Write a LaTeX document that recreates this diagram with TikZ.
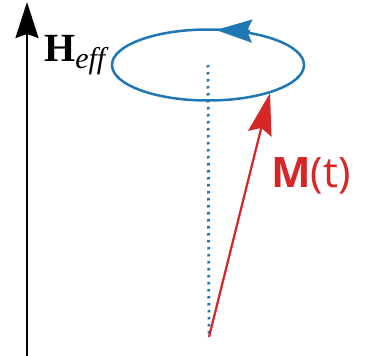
\documentclass[tikz,border=0pt]{standalone}
\usepackage{fontspec}
\setmainfont{Liberation Serif}
\newfontfamily\labsans{Open Sans}
\usetikzlibrary{arrows.meta}
\definecolor{mblue}{HTML}{1F77B4}
\definecolor{mred}{HTML}{D62728}
\tikzset{
  axisline/.style={line width=2pt, black, -{Stealth[length=36pt,width=23pt,inset=4pt]}},
  orbit/.style={line width=2.5pt, mblue},
  spinvec/.style={line width=2.2pt, mred, -{Stealth[length=42pt,width=24pt,inset=6pt]}},
  dotline/.style={line width=2.8pt, mblue, dash pattern=on 2.5pt off 4.5pt}
}
\begin{document}
\begin{tikzpicture}[x=1pt,y=-1pt]
\useasboundingbox (0,0) rectangle (376,356);
\coordinate (axbot) at (27,356);
\coordinate (axtop) at (27,2);
\draw[axisline] (axbot) -- (axtop);
\node[anchor=base west, inner sep=0pt] (heff) at (44,62)
  {\fontsize{40}{40}\selectfont\textbf{H}\raisebox{-6pt}{\fontsize{30}{30}\selectfont\itshape eff}};
\coordinate (ctr) at (208,65);
\coordinate (base) at (209,337);
\draw[dotline] (ctr) -- (base);
\draw[orbit] (ctr) ellipse [x radius=96, y radius=35.5];
\coordinate (arrA) at (250,31);
\coordinate (arrB) at (216,30);
\draw[orbit, -{Stealth[length=36pt,width=23pt,inset=5pt]}] (arrA) -- (arrB);
\coordinate (tip) at (270,93);
\draw[spinvec] (base) -- (tip);
\node[anchor=base west, inner sep=0pt, text=mred] (mlab) at (271,188)
  {\labsans\fontsize{42}{42}\selectfont\textbf{M}(t)};
\end{tikzpicture}
\end{document}
